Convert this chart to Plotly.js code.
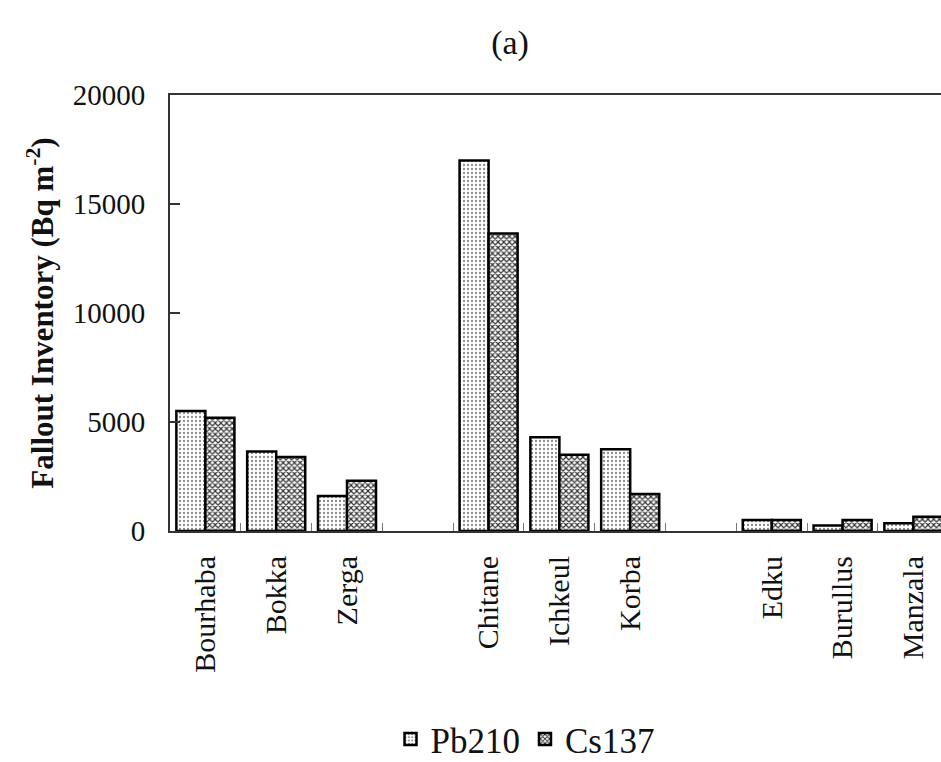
<!DOCTYPE html>
<html>
<head>
<meta charset="utf-8">
<script src="https://cdn.plot.ly/plotly-3.0.1.min.js"></script>
<style>html,body{margin:0;padding:0;background:#fff;}#chart{width:941px;height:762px;}</style>
</head>
<body>
<div id="chart"></div>
<script>
// Lakes grouped by country; spacer slots separate the groups
const groups = [
  ["Bourhaba", "Bokka", "Zerga"],
  ["Chitane", "Ichkeul", "Korba"],
  ["Edku", "Burullus", "Manzala"]
];
const pb210 = {
  "Bourhaba": 5500, "Bokka": 3650, "Zerga": 1600,
  "Chitane": 17000, "Ichkeul": 4300, "Korba": 3750,
  "Edku": 500, "Burullus": 250, "Manzala": 350
};
const cs137 = {
  "Bourhaba": 5200, "Bokka": 3400, "Zerga": 2300,
  "Chitane": 13650, "Ichkeul": 3500, "Korba": 1700,
  "Edku": 500, "Burullus": 500, "Manzala": 650
};
const yTicks = [0, 5000, 10000, 15000, 20000];

// Build the category list with blank spacer slots between groups
const categories = [];
groups.forEach((g, i) => {
  g.forEach(c => categories.push(c));
  if (i < groups.length - 1) categories.push(" ".repeat(i + 1));
});
const pbVals = categories.map(c => (c in pb210 ? pb210[c] : null));
const csVals = categories.map(c => (c in cs137 ? cs137[c] : null));

const serif = "'Liberation Serif', 'Times New Roman', Times, serif";

const traces = [
  {
    type: "bar", name: "Pb210", x: categories, y: pbVals,
    marker: {
      color: "#ffffff",
      line: {color: "#000", width: 2.5},
      pattern: {shape: ".", fgcolor: "#8a8a8a", bgcolor: "#ffffff", size: 4, solidity: 0.25}
    }
  },
  {
    type: "bar", name: "Cs137", x: categories, y: csVals,
    marker: {
      color: "#ffffff",
      line: {color: "#000", width: 2.5},
      pattern: {shape: "x", fgcolor: "#333333", bgcolor: "#ffffff", size: 4, solidity: 0.5}
    }
  }
];

const layout = {
  width: 941, height: 762,
  paper_bgcolor: "#fff", plot_bgcolor: "#fff",
  margin: {l: 170, r: 0, t: 95, b: 231},
  font: {family: serif, color: "#111"},
  barmode: "group", bargap: 0.18, bargroupgap: 0,
  showlegend: true,
  title: {text: "(a)", font: {family: serif, size: 34, color: "#111"}, x: 0.542, xanchor: "center", y: 0.945, yanchor: "middle"},
  xaxis: {
    type: "category", categoryorder: "array", categoryarray: categories,
    range: [-0.5, 10.39],
    showline: true, linecolor: "#333", linewidth: 2, mirror: true,
    ticks: "inside", tickson: "boundaries", ticklen: 8, tickcolor: "#777", tickwidth: 1,
    tickangle: -90, tickfont: {family: serif, size: 30, color: "#111"},
    ticklabelstandoff: 11,
    showgrid: false, zeroline: false, fixedrange: true
  },
  yaxis: {
    range: [0, 20000], tickvals: yTicks, ticktext: yTicks.map(String),
    showline: true, linecolor: "#333", linewidth: 2,
    ticks: "inside", ticklen: 10, tickcolor: "#333", tickwidth: 2,
    tickfont: {family: serif, size: 29, color: "#111"},
    ticklabelstandoff: 17,
    showgrid: false, zeroline: false, fixedrange: true,
    title: {text: "Fallout Inventory (Bq m<sup>-2</sup>)", font: {family: serif, size: 31, color: "#111", weight: "bold"}, standoff: 10}
  },
  legend: {
    orientation: "h", xref: "container", yref: "container",
    x: 0.415, xanchor: "left", y: 0.03, yanchor: "middle",
    font: {family: serif, size: 35, color: "#111"},
    itemwidth: 30, tracegroupgap: 0, bgcolor: "rgba(0,0,0,0)"
  }
};

Plotly.newPlot("chart", traces, layout, {displayModeBar: false, staticPlot: true});
</script>
</body>
</html>
